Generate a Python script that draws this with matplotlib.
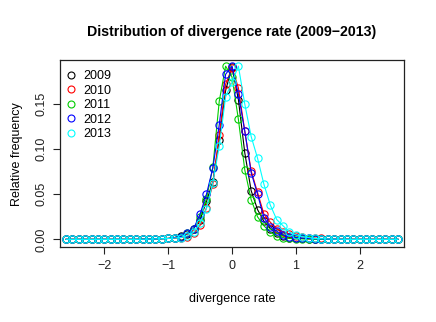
import matplotlib
matplotlib.use("Agg")
import matplotlib.pyplot as plt
from matplotlib.lines import Line2D

plt.rcParams['font.family'] = ['Liberation Sans', 'DejaVu Sans']

x = [-2.6, -2.5, -2.4, -2.3, -2.2, -2.1, -2.0, -1.9, -1.8, -1.7, -1.6, -1.5, -1.4, -1.3, -1.2, -1.1,
     -1.0, -0.9, -0.8, -0.7, -0.6, -0.5, -0.4, -0.3, -0.2, -0.1, 0.0, 0.1, 0.2, 0.3, 0.4, 0.5, 0.6, 0.7, 0.8, 0.9, 1.0,
     1.1, 1.2, 1.3, 1.4, 1.5, 1.6, 1.7, 1.8, 1.9, 2.0, 2.1, 2.2, 2.3, 2.4, 2.5, 2.6]

years = ["2009", "2010", "2011", "2012", "2013"]

freq_2009 = [0, 0, 0, 0, 0, 0, 0, 0, 0, 0, 0, 0, 0.0002, 0.0003, 0.0005, 0.0008,
             0.001, 0.002, 0.004, 0.006, 0.012, 0.022, 0.042, 0.064, 0.110, 0.165, 0.191, 0.155, 0.096, 0.054, 0.033, 0.020, 0.012, 0.007, 0.004, 0.002, 0.0015,
             0.001, 0.0007, 0.0005, 0.0003, 0.0002, 0, 0, 0, 0, 0, 0, 0, 0, 0, 0, 0]
freq_2010 = [0, 0, 0, 0, 0, 0, 0, 0, 0, 0, 0, 0, 0.0002, 0.0003, 0.0005, 0.0007,
             0.001, 0.001, 0.002, 0.003, 0.0066, 0.0155, 0.035, 0.061, 0.116, 0.172, 0.190, 0.168, 0.120, 0.076, 0.052, 0.028, 0.019, 0.012, 0.0085, 0.006, 0.004,
             0.003, 0.002, 0.0015, 0.001, 0.0007, 0.0005, 0.0003, 0.0002, 0, 0, 0, 0, 0, 0, 0, 0]
freq_2011 = [0, 0, 0, 0, 0, 0, 0, 0, 0, 0, 0, 0, 0.0002, 0.0003, 0.0005, 0.0007,
             0.001, 0.002, 0.003, 0.007, 0.012, 0.025, 0.045, 0.080, 0.153, 0.192, 0.180, 0.133, 0.077, 0.044, 0.025, 0.015, 0.008, 0.004, 0.002, 0.001, 0.0008,
             0.0005, 0.0003, 0.0002, 0, 0, 0, 0, 0, 0, 0, 0, 0, 0, 0, 0, 0]
freq_2012 = [0, 0, 0, 0, 0, 0, 0, 0, 0, 0, 0, 0, 0.0002, 0.0003, 0.0005, 0.0007,
             0.001, 0.002, 0.003, 0.007, 0.012, 0.028, 0.050, 0.079, 0.127, 0.183, 0.192, 0.161, 0.120, 0.074, 0.050, 0.024, 0.014, 0.009, 0.005, 0.003, 0.002,
             0.0015, 0.001, 0.0007, 0.0005, 0.0003, 0.0002, 0, 0, 0, 0, 0, 0, 0, 0, 0, 0]
freq_2013 = [0, 0, 0, 0, 0, 0, 0, 0, 0, 0, 0, 0, 0.0002, 0.0003, 0.0005, 0.0007,
             0.001, 0.0015, 0.002, 0.004, 0.008, 0.018, 0.034, 0.063, 0.103, 0.158, 0.174, 0.192, 0.150, 0.114, 0.090, 0.061, 0.038, 0.022, 0.015, 0.008, 0.005,
             0.003, 0.002, 0.001, 0.0007, 0.0005, 0.0003, 0.0002, 0, 0, 0, 0, 0, 0, 0, 0, 0]

series = [freq_2009, freq_2010, freq_2011, freq_2012, freq_2013]
colors = ["black", "#FF0000", "#00CD00", "#0000FF", "#00FFFF"]

xticks = [-2, -1, 0, 1, 2]
yticks = [0.00, 0.05, 0.10, 0.15]
ytick_labels = ["0.00", "0.05", "0.10", "0.15"]

fig = plt.figure(figsize=(4.36, 3.22), dpi=100)
ax = fig.add_axes([60/436, 1 - 247.3/322, (404 - 60)/436, (247.3 - 60)/322])

for vals, c in zip(series, colors):
    ax.plot(x, vals, color=c, lw=0.8, marker='o', markersize=5.2,
            markerfacecolor='none', markeredgecolor=c, markeredgewidth=0.8)

ax.set_xlim(-2.694, 2.694)
ax.set_ylim(-0.0088, 0.1988)
ax.set_xticks(xticks)
ax.set_xticklabels(["\u22122", "\u22121", "0", "1", "2"])
ax.set_yticks(yticks)
ax.set_yticklabels(ytick_labels, rotation=90, va='center')
ax.tick_params(axis='both', direction='out', length=5, width=0.8, labelsize=9, colors='#222222')
ax.tick_params(axis='x', pad=4)
ax.tick_params(axis='y', pad=4)
for s in ax.spines.values():
    s.set_linewidth(0.9)
    s.set_color('#222222')

ax.set_xlabel("divergence rate", fontsize=9, labelpad=15)
ax.set_ylabel("Relative frequency", fontsize=9, labelpad=9)
fig.text(232/436, 1 - 32/322, "Distribution of divergence rate (2009\u22122013)",
         ha='center', va='center', fontsize=10.2, fontweight='bold')

handles = [Line2D([], [], linestyle='none', marker='o', markersize=5.0,
                  markerfacecolor='none', markeredgecolor=c, markeredgewidth=0.8)
           for c in colors]
ax.legend(handles, years, loc='upper left', frameon=False, fontsize=9,
          handlelength=1.0, handletextpad=0.45, labelspacing=0.2,
          borderaxespad=0.0, borderpad=0.0, bbox_to_anchor=(0.014, 0.945))

fig.savefig("out.png", dpi=100)
